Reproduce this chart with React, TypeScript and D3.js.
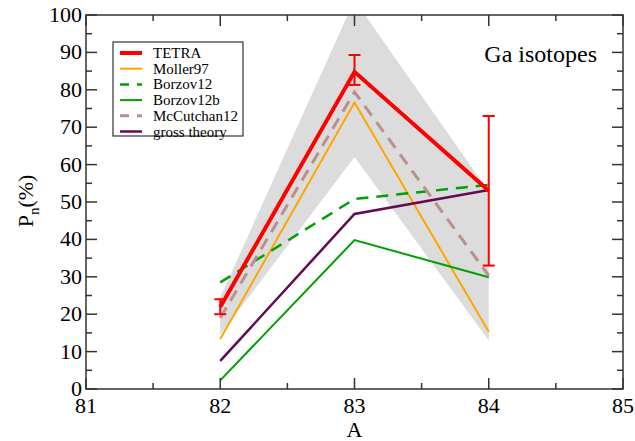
import React from "react";
import * as d3 from "d3";

const masses = [82, 83, 84];
const tetra = [21.9, 84.8, 53];
const tetraLow = [20, 81.3, 33];
const tetraHigh = [24, 89.3, 73];
const moller97 = [13.4, 76.6, 15.3];
const borzov12 = [28.5, 50.8, 54.6];
const borzov12b = [2.3, 39.8, 29.9];
const mccutchan12 = [19, 79.4, 30.3];
const grossTheory = [7.5, 46.8, 53.2];
const bandLow = [14.5, 62, 13];
const bandHigh = [24.5, 104, 52.8];
const xTicks = [81, 82, 83, 84, 85];
const yTicks = [0, 10, 20, 30, 40, 50, 60, 70, 80, 90, 100];

const W = 635, H = 441;
const L = 86, R = 623, T = 15, B = 389;
const FONT = "'Liberation Serif', 'Times New Roman', serif";

export default function App() {
  const x = d3.scaleLinear().domain([81, 85]).range([L, R]);
  const y = d3.scaleLinear().domain([0, 100]).range([B, T]);
  const line = d3.line<number>().x((_, i) => x(masses[i])).y((v) => y(v));
  const area = d3
    .area<number>()
    .x((_, i) => x(masses[i]))
    .y0((_, i) => y(bandLow[i]))
    .y1((v) => y(v));

  const series = [
    { name: "TETRA", data: tetra, color: "#ff0000", w: 4, dash: "" },
    { name: "Moller97", data: moller97, color: "#ffa500", w: 2, dash: "" },
    { name: "Borzov12", data: borzov12, color: "#00a000", w: 2.5, dash: "12,8" },
    { name: "Borzov12b", data: borzov12b, color: "#00a000", w: 2, dash: "" },
    { name: "McCutchan12", data: mccutchan12, color: "#bc8f8f", w: 3, dash: "12,8" },
    { name: "gross theory", data: grossTheory, color: "#640a50", w: 2.5, dash: "" },
  ];
  const drawOrder = [1, 3, 5, 2, 4, 0];

  const xMinor = d3.range(81, 85.01, 0.5);
  const yMinor = d3.range(0, 100.01, 5);

  return (
    <svg width={W} height={H} style={{ position: "absolute", left: 0, top: 0, background: "#fff" }}>
      <defs>
        <clipPath id="plot">
          <rect x={L} y={T} width={R - L} height={B - T} />
        </clipPath>
      </defs>
      <rect x={0} y={0} width={W} height={H} fill="#fff" />
      <g clipPath="url(#plot)">
        <path d={area(bandHigh) || ""} fill="#dcdcdc" />
        {drawOrder.map((k) => {
          const s = series[k];
          return (
            <path
              key={s.name}
              d={line(s.data) || ""}
              fill="none"
              stroke={s.color}
              strokeWidth={s.w}
              strokeDasharray={s.dash}
              strokeLinejoin="miter"
            />
          );
        })}
        {masses.map((m, i) => (
          <g key={m} stroke="#ff0000" strokeWidth={2}>
            <line x1={x(m)} x2={x(m)} y1={y(tetraLow[i])} y2={y(tetraHigh[i])} />
            <line x1={x(m) - 6} x2={x(m) + 6} y1={y(tetraLow[i])} y2={y(tetraLow[i])} />
            <line x1={x(m) - 6} x2={x(m) + 6} y1={y(tetraHigh[i])} y2={y(tetraHigh[i])} />
          </g>
        ))}
      </g>
      <g stroke="#333" strokeWidth={1.5}>
        <rect x={L} y={T} width={R - L} height={B - T} fill="none" />
        {xMinor.map((v) => {
          const major = Number.isInteger(v);
          const len = major ? 11 : 6;
          return (
            <g key={"x" + v}>
              <line x1={x(v)} x2={x(v)} y1={B} y2={B - len} />
              <line x1={x(v)} x2={x(v)} y1={T} y2={T + len} />
            </g>
          );
        })}
        {yMinor.map((v) => {
          const major = v % 10 === 0;
          const len = major ? 11 : 6;
          return (
            <g key={"y" + v}>
              <line x1={L} x2={L + len} y1={y(v)} y2={y(v)} />
              <line x1={R} x2={R - len} y1={y(v)} y2={y(v)} />
            </g>
          );
        })}
      </g>
      <g style={{ fontFamily: FONT }} fontSize={22} fill="#000">
        {xTicks.map((v) => (
          <text key={v} x={x(v)} y={B + 24} textAnchor="middle">
            {v}
          </text>
        ))}
        {yTicks.map((v) => (
          <text key={v} x={L - 4} y={y(v) + 7} textAnchor="end">
            {v}
          </text>
        ))}
        <text x={(L + R) / 2} y={B + 48} textAnchor="middle">
          A
        </text>
        <text transform={`translate(33,201) rotate(-90)`} textAnchor="middle">
          P<tspan fontSize={15} dy={6}>n</tspan>
          <tspan dy={-6}>(%)</tspan>
        </text>
        <text x={597} y={62} textAnchor="end" fontSize={24}>
          Ga isotopes
        </text>
      </g>
      <g style={{ fontFamily: FONT }} fontSize={15}>
        <rect x={113} y={42} width={130} height={94} fill="#fff" stroke="#333" strokeWidth={1.2} />
        {series.map((s, i) => {
          const yy = 53 + i * 15.7;
          return (
            <g key={s.name}>
              <line
                x1={120}
                x2={142}
                y1={yy}
                y2={yy}
                stroke={s.color}
                strokeWidth={s.w}
                strokeDasharray={s.dash ? "9,8" : ""}
              />
              <text x={153} y={yy + 5} fill="#000">
                {s.name}
              </text>
            </g>
          );
        })}
      </g>
    </svg>
  );
}
